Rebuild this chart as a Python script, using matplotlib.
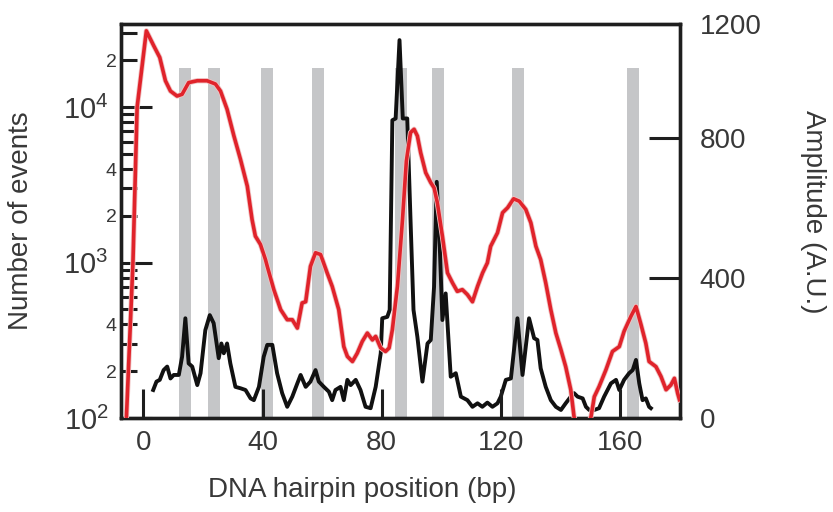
import matplotlib
matplotlib.use("Agg")
import matplotlib.pyplot as plt
import matplotlib.patheffects as pe
import numpy as np

plt.rcParams['font.family'] = ['Liberation Sans', 'DejaVu Sans']
plt.rcParams['mathtext.fontset'] = 'custom'
plt.rcParams['mathtext.rm'] = 'Liberation Sans'

# ---------------- data ----------------
# gray bar positions (bp)
bar_pos = [14.0, 23.6, 41.4, 58.5, 86.6, 99.0, 125.8, 164.4]
bar_width = 4.0
bar_height = 1000  # amplitude units

# red trace: number of events (log axis)
red_x = [-5.8, -3.5, -2.1, 1.0, 3.5, 5.5, 7.4, 9.1, 11.3, 13.0, 15.2, 18.1, 21.4, 24.2,
         25.9, 28.1, 30.4, 32.6, 34.9, 36.5, 37.6, 39.3, 41.0, 41.6, 43.8, 46.1, 48.3,
         50.0, 51.7, 53.3, 54.5, 56.1, 57.8, 59.5, 61.7, 63.4, 65.6, 67.3, 68.5, 70.2,
         71.8, 73.5, 75.2, 76.9, 78.0, 79.7, 81.3, 82.5, 83.6, 85.3, 87.0, 88.3, 89.7,
         90.9, 92.0, 93.1, 94.8, 96.5, 97.6, 98.7, 100.4, 102.1, 103.8, 105.4, 107.1,
         108.8, 110.5, 112.2, 113.9, 115.5, 116.6, 118.9, 120.6, 122.3, 124.3, 126.2,
         128.4, 130.1, 131.8, 133.4, 135.1, 136.8, 138.5, 140.2, 141.8, 143.5, 144.6,
         147.0, 150.3, 151.4, 153.0, 155.3, 157.5, 159.8, 161.4, 163.7, 165.4, 167.1,
         168.7, 169.8, 172.1, 173.8, 175.5, 177.1, 178.3, 179.4, 180.0]
red_y = [90, 1000, 10000, 31000, 24800, 20900, 14800, 12700, 11800, 12100, 14400, 14800,
         14800, 14100, 12700, 9700, 6530, 4620, 3100, 1890, 1480, 1310, 1045, 946, 670,
         498, 429, 429, 379, 550, 560, 946, 1157, 1127, 859, 703, 498, 288, 249, 231,
         261, 311, 352, 318, 335, 282, 268, 282, 370, 703, 1890, 4500, 6870, 7210, 6530,
         5100, 3790, 3270, 3030, 2430, 1480, 859, 740, 653, 670, 622, 560, 703, 859, 996,
         1273, 1555, 2094, 2255, 2575, 2484, 2197, 1804, 1273, 1045, 740, 498, 352, 275,
         214, 152, 102, 70, 102, 137, 159, 204, 268, 288, 361, 451, 522, 398, 303, 231,
         214, 185, 152, 163, 180, 144, 131]

# black trace: amplitude (A.U.)
blk_x = [3.3, 4.4, 5.5, 6.8, 8.0, 9.1, 10.2, 11.9, 13.0, 14.1, 15.2, 16.4, 18.1, 19.2,
         20.8, 22.3, 23.6, 25.3, 26.2, 27.0, 28.1, 29.2, 30.9, 32.6, 34.3, 36.0, 37.1,
         38.8, 40.4, 41.6, 43.3, 44.9, 46.6, 48.3, 50.0, 51.7, 52.8, 54.5, 56.1, 57.8,
         58.9, 60.6, 62.3, 63.4, 64.5, 66.2, 67.3, 68.5, 69.6, 71.3, 72.9, 74.6, 76.3,
         78.0, 79.7, 80.2, 81.9, 82.7, 83.6, 84.7, 86.0, 87.1, 88.6, 89.7, 90.7, 92.0,
         93.7, 95.4, 96.5, 97.6, 98.5, 99.6, 100.4, 101.5, 103.2, 104.9, 106.6, 108.8,
         110.5, 112.2, 113.8, 115.5, 117.2, 118.9, 120.0, 121.7, 123.4, 125.6, 127.3,
         129.5, 131.2, 132.3, 133.4, 135.1, 136.8, 138.5, 140.2, 141.8, 143.5, 144.6,
         145.8, 147.5, 148.6, 149.7, 151.4, 153.0, 154.7, 157.0, 158.7, 159.8, 161.4,
         163.1, 164.3, 165.4, 166.5, 167.6, 168.7, 169.8, 170.4]
blk_y = [80, 104, 109, 137, 147, 113, 123, 123, 175, 285, 156, 147, 94, 128, 251, 294,
         271, 171, 213, 185, 213, 156, 89, 85, 80, 56, 51, 89, 175, 209, 209, 128, 71, 32,
         61, 99, 123, 89, 104, 137, 104, 89, 75, 51, 80, 89, 51, 109, 94, 109, 80, 32, 28,
         89, 185, 285, 289, 309, 851, 856, 1080, 856, 856, 566, 309, 232, 104, 213, 223,
         375, 675, 471, 280, 356, 118, 128, 61, 51, 32, 42, 32, 44, 32, 42, 61, 109, 113,
         285, 123, 285, 228, 223, 142, 89, 51, 32, 23, 42, 61, 71, 61, 56, 32, 23, 23, 28,
         61, 99, 109, 80, 109, 128, 137, 166, 99, 51, 56, 32, 28]

x_ticks = [0, 40, 80, 120, 160]
left_major = [1e2, 1e3, 1e4]
left_major_labels = [r'$\mathregular{10^{2}}$', r'$\mathregular{10^{3}}$', r'$\mathregular{10^{4}}$']
left_minor = [2e2, 3e2, 4e2, 5e2, 6e2, 7e2, 8e2, 9e2,
              2e3, 3e3, 4e3, 5e3, 6e3, 7e3, 8e3, 9e3, 2e4, 3e4]
left_minor_labels = ['2', '', '4', '', '', '', '', '',
                     '2', '', '4', '', '', '', '', '', '2', '']
right_ticks = [0, 400, 800, 1126]
right_labels = ['0', '400', '800', '1200']

# ---------------- figure ----------------
fig = plt.figure(figsize=(8.33, 5.12), dpi=100)
ax = fig.add_axes([0.1453, 0.1836, 0.6711, 0.7695])
ax2 = ax.twinx()
ax.set_zorder(ax2.get_zorder() + 1)
ax.patch.set_visible(False)

txt = '#383838'
spine_c = '#1e1e1e'

# bars and black trace on amplitude axis
ax2.bar(bar_pos, [bar_height] * len(bar_pos), width=bar_width, color='#c5c6c8',
        edgecolor='none', zorder=1)
ax2.plot(blk_x, blk_y, color='#111111', lw=2.8, zorder=3, solid_joinstyle='round')
ax2.set_ylim(0, 1126)

# red trace on log axis
ax.plot(red_x, red_y, color='#e0232b', lw=2.6, zorder=4, solid_joinstyle='round',
        path_effects=[pe.Stroke(linewidth=3.8, foreground='#f0c4c4'), pe.Normal()])
ax.set_yscale('log')
ax.set_ylim(100, 3.43e4)
ax.set_xlim(-7.5, 180.2)

# ticks
ax.set_xticks(x_ticks)
ax.set_xticklabels([str(v) for v in x_ticks])
ax.set_yticks(left_major, labels=left_major_labels)
ax.set_yticks(left_minor, labels=left_minor_labels, minor=True)
ax.tick_params(axis='x', which='both', direction='in', length=21, width=2.2,
               color=spine_c, labelsize=20, labelcolor=txt, pad=9, top=False)
ax.xaxis.set_minor_locator(matplotlib.ticker.NullLocator())
ax.tick_params(axis='y', which='major', direction='in', length=22, width=2.2,
               color=spine_c, labelsize=21, labelcolor=txt, pad=9, right=False)
ax.tick_params(axis='y', which='minor', direction='in', length=11.5, width=2.2,
               color=spine_c, labelsize=14, labelcolor=txt, pad=3, right=False)

ax2.set_yticks(right_ticks, labels=right_labels)
ax2.tick_params(axis='y', direction='in', length=22, width=2.2, color=spine_c,
                labelsize=20, labelcolor=txt, pad=14)
ax2.yaxis.set_minor_locator(matplotlib.ticker.NullLocator())

for a in (ax, ax2):
    for s in a.spines.values():
        s.set_linewidth(2.4)
        s.set_color(spine_c)

ax.set_xlabel('DNA hairpin position (bp)', fontsize=20, color=txt)
ax.xaxis.set_label_coords(0.431, -0.15)
ax.set_ylabel('Number of events', fontsize=20, color=txt)
ax.yaxis.set_label_coords(-0.155, 0.5)
ax2.set_ylabel('Amplitude (A.U.)', fontsize=20, color=txt, rotation=270, va='center')
ax2.yaxis.set_label_coords(1.238, 0.523)

fig.savefig('out.png', dpi=100)
